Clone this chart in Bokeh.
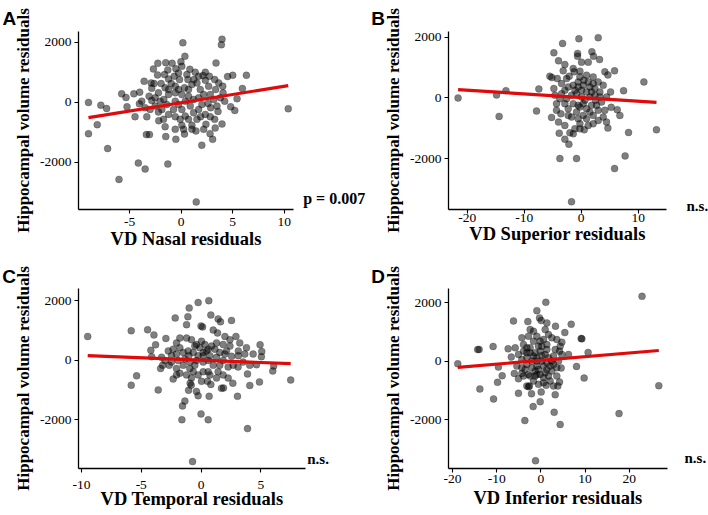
from bokeh.plotting import figure
from bokeh.layouts import row, column
from bokeh.models import Label, FixedTicker, Range1d
from bokeh.embed import file_html
from bokeh.resources import INLINE

# ---------------- data ----------------
y_title = "Hippocampal volume residuals"

# Panel A: VD Nasal
a_x = [-9.0,-9.0,-8.15,-7.8,-7.24,-7.14,-6.04,-4.16,-3.5,-1.3,
       1.46,10.39,0.16,3.96,3.9,6.33,5.0,4.5,5.94,5.42,
       4.8,5.2,3.96,3.3,3.05,2.8,2.0,1.43,3.38,0.36,
       -0.03,-0.88,-1.5,-2.27,-2.7,-1.3,-2.3,-0.52,0.84,1.36,
       2.34,-3.6,-2.92,-5.78,-4.6,-4.03,-5.36,-5.26,-4.06,-4.48,
       -3.34,-3.38,-3.08,-2.18,-1.5,-1.56,-0.52,0.32,-0.58,0.06,
       1.04,2.4,1.88,0.71,3.25,3.57,2.86,2.6,3.34,4.03,
       4.06,3.25,2.34,2.11,1.23,0.55,0.65,-0.16,-1.23,-1.95,
       -2.63,-2.86,-3.12,-2.86,-2.53,-1.88,-1.69,-1.23,-0.58,-1.23,
       -0.26,0.32,0.71,1.2,1.69,2.18,1.85,2.66,2.82,3.15,
       -0.58,-0.26,0.06,-0.75,-1.23,-0.58,-0.1,0.39,1.2,1.69,
       2.01,0.88,0.39,0.71,0.06,-0.58,-0.97,-1.56,-2.21,-2.53,
       -1.4,-2.05,-1.72,0.23,1.04,2.18,1.53,2.34,2.82,3.47,
       3.8,4.22,3.64,1.53,1.04,-0.26,-0.68,-1.62,0.06,1.69,
       2.73,-3.5,-3.83,-3.02,-2.21]
a_y = [0,-1040,-740,-90,-200,-1536,-2564,-2022,-2221,-2055,
       -3315,-210,1989,2110,1923,906,906,862,464,122,
       -144,-265,-718,-851,-1227,-1039,-1425,-950,1315,1536,
       1359,1304,1326,1304,1116,1083,917,1127,1105,1006,
       1006,707,652,287,287,343,166,-144,-44,-475,
       -475,-1072,-1072,-608,-1138,-807,-1227,-1050,-895,-762,
       -762,-729,-475,-564,-564,-298,-177,-33,431,541,
       320,762,740,895,762,928,762,762,785,630,
       630,475,210,66,-122,-232,100,265,320,431,
       431,486,431,100,155,265,431,541,265,100,
       44,-66,-232,-232,-398,-475,-564,-453,-343,-232,
       -66,-122,44,210,265,541,630,486,320,155,
       -66,44,-564,-895,-895,-895,-564,-398,-475,-122,
       155,44,652,652,597,983,873,928,1204,873,
       873,-177,44,-232,-320]
a_fit_x = [-9.0, 10.39]
a_fit_y = [-508, 563]

# Panel B: VD Superior
b_x = [-21.6,-14.85,-14.4,-13.2,-7.84,-7.43,13.2,10.99,8.3,7.7,
       5.85,-1.7,-3.74,-0.82,-2.16,-2.87,-3.27,-0.41,2.98,-4.8,
       -0.64,-0.64,1.87,2.16,3.22,-3.98,-2.87,0.06,1.23,-1.4,
       -3.16,-5.5,-5.15,-4.2,-2.57,-1.23,-0.23,0.94,2.1,4.15,
       5.85,4.68,7.43,5.15,4.44,5.26,6.32,6.78,4.44,4.68,
       3.86,2.98,2.1,1.23,0.53,-0.23,-1.11,-1.4,-1.99,-3.86,
       -3.98,-5.2,-4.33,-3.57,-2.28,-1.7,-0.82,-0.53,0.35,0.94,
       1.81,2.69,3.57,3.27,2.4,1.52,0.35,-0.53,-0.53,-1.4,
       -2.28,-2.87,-3.45,-4.8,-4.62,-3.74,-2.57,-1.7,-0.82,0.06,
       0.64,1.52,2.4,3.27,0.35,-0.53,-1.4,-2.87,0.94,1.23,
       2.1,2.98,-0.23,-2.1,-3.45,3.86,4.15,2.98,2.1,-0.23,
       1.52,-2.28,-2.87,0.94,0.06,1.81,-1.11,0.47,-4.33,2.51,
       -0.23]
b_y = [0,99,-605,242,-429,297,-1046,528,-1134,-1905,
       -2323,-3413,-1993,-1993,-1519,-1354,1795,1949,1982,1486,
       1464,1376,1519,1376,1266,1222,1101,1178,1178,969,
       892,716,672,639,639,859,881,749,694,859,
       892,760,242,198,33,-308,-385,-572,-793,-991,
       -627,-407,-572,-903,-1046,-848,-1013,-1178,-1145,-1156,
       -793,-639,-407,-517,-352,-627,-462,-683,-572,-352,
       -242,-242,-132,198,308,363,418,528,363,418,
       363,253,143,308,88,-22,-22,88,143,33,
       -77,33,88,33,-187,-242,-187,-187,198,528,
       473,528,694,716,473,418,-407,-738,-848,-297,
       -462,-572,-903,-683,253,198,253,583,-187,-77,
       -1013]
b_fit_x = [-21.6, 13.2]
b_fit_y = [275, -143]

# Panel C: VD Temporal
c_x = [-9.48,-5.84,-5.84,-5.39,-4.47,-3.94,-3.58,-4.2,-3.8,-4.13,
       -3.3,-2.94,-2.16,-0.99,-0.24,0.65,-1.1,-1.21,0.82,1.43,
       1.63,2.55,0.0,0.13,1.02,1.38,-1.6,0.0,0.6,3.89,
       -0.71,7.5,6.0,6.08,4.94,5.08,5.05,4.89,4.08,3.89,
       3.05,2.66,1.88,1.71,0.68,0.54,-0.24,-0.38,-0.91,-0.82,
       -1.04,-1.35,-1.55,-2.33,-2.05,-3.38,-2.66,-2.05,-1.77,-1.21,
       -0.65,-0.24,0.18,0.74,1.3,1.85,0.82,2.27,2.69,3.1,
       3.52,4.08,4.64,4.36,3.8,3.24,2.92,2.42,2.0,1.85,
       2.42,3.12,3.12,2.56,2.0,1.57,1.16,0.88,0.6,0.32,
       -0.1,-0.38,-0.8,-1.21,-1.77,-2.05,-1.77,-2.33,-2.74,-2.47,
       -2.05,-1.49,-1.07,-0.65,-0.24,0.18,0.74,1.3,1.85,1.57,
       1.02,0.6,0.18,-0.38,-0.94,-1.35,-1.91,-2.47,-3.02,-3.21,
       -1.49,-0.94,-0.52,-0.8,0.04,0.6,1.43,2.27,-0.52,0.04,
       1.3,2.13,3.66,0.18,0.46,-1.02]
c_y = [796,989,-839,-527,1021,849,-1000,333,516,118,
       97,731,1419,1752,1935,2000,1462,1193,1516,1387,
       1290,1333,1150,1118,1011,914,-2000,-1806,-2000,-2300,
       -3408,-667,-365,-194,516,290,118,-731,-849,-462,
       -1215,-774,-935,-946,-1215,-710,-1193,-1054,-774,-839,
       -1011,-1376,-1537,-634,-495,-280,-172,-280,-441,-495,
       -387,-495,-387,-495,-602,-495,-817,-226,-172,-226,
       -64,-172,-151,204,419,581,796,688,796,527,
       473,312,150,129,204,258,366,473,366,527,
       419,527,688,742,742,581,419,366,312,150,
       204,258,312,258,150,258,150,97,-11,-172,
       -172,-11,-64,-11,-64,43,-11,-64,-11,-172,
       -172,-280,-172,-602,-710,-387,-387,-602,473,634,
       581,312,204,150,312,150]
c_fit_x = [-9.48, 7.5]
c_fit_y = [150, -118]

# Panel D: VD Inferior
d_x = [-18.8,22.9,26.7,17.7,1.13,-0.9,-0.3,0.08,-2.94,-6.19,
       1.36,3.32,5.43,6.87,9.13,9.28,10.7,8.08,9.8,4.75,
       4.23,4.6,3.62,4.23,3.85,3.25,3.02,4.38,-3.62,-1.2,
       -1.74,-0.15,-2.11,-5.06,-2.8,0.08,1.2,-10.7,-13.8,-9.8,
       -8.75,-9.6,-14.3,-13.96,-10.8,-7.4,-5.8,-6.7,-5.43,-6.0,
       -5.06,-3.17,-2.57,-3.92,-2.42,-0.9,0.6,2.11,2.87,1.36,
       2.49,2.87,4.0,4.75,6.26,2.87,1.74,0.98,-0.15,-1.28,
       -2.42,-3.17,-3.92,-4.3,-2.8,-1.66,-0.9,0.6,1.74,2.49,
       3.62,1.36,0.23,0.98,-2.42,-3.92,-5.06,-4.3,-3.17,-2.04,
       -0.9,0.23,1.36,2.11,0.6,-0.9,-2.04,-3.17,-4.3,-4.3,
       -1.66,-0.53,0.6,3.62,-0.9,-1.66,-2.42,-0.53,1.36,3.25,
       4.38,2.49,0.98,-0.15,-1.28,-2.8,-3.55,-1.28,1.74,-0.53,
       0.23,-3.17,-1.66,-0.15]
d_y = [-80,2227,-829,-1784,2022,1738,1488,1397,1363,1386,
       1318,1204,988,1272,784,772,307,-170,-568,659,
       352,-227,-500,-704,-841,-1136,-1738,-2158,-2022,-3397,
       -1545,-1375,-1102,-1090,-863,-1045,-818,-1284,-943,-716,
       -488,-193,409,409,511,432,466,148,-159,-409,
       -591,-841,-841,-500,-500,-443,-557,-670,-841,-273,
       -330,-102,11,239,239,182,125,239,352,295,
       295,466,352,807,863,693,863,750,920,807,
       750,579,523,1090,1090,579,239,68,125,11,
       125,11,-45,-159,-159,-159,-216,-102,-216,-409,
       -670,-784,-727,-216,11,182,466,523,409,409,
       523,11,-386,-443,-500,-443,-273,-330,-500,-273,
       205,295,1034,693]
d_fit_x = [-18.8, 26.7]
d_fit_y = [-204, 375]

# ---------------- styling helpers ----------------
SERIF = "Liberation Serif"
SANS = "Liberation Sans"
RED = "#E00A0A"


def make_panel(xs, ys, fit_x, fit_y, xr, yr, xticks, yticks, xlabel,
               width, height, borders, letter, letter_pos, note, note_pos,
               note_size, x_std, x_title_std):
    bl, br, bt, bb = borders
    p = figure(width=width, height=height, output_backend="svg",
               toolbar_location=None, tools="",
               x_range=Range1d(*xr), y_range=Range1d(*yr),
               min_border_left=bl, min_border_right=br,
               min_border_top=bt, min_border_bottom=bb)
    p.outline_line_color = None
    p.grid.visible = False
    p.background_fill_color = "white"
    p.border_fill_color = "white"

    p.scatter(xs, ys, size=7, fill_color="black", fill_alpha=0.5,
              line_color="black", line_alpha=0.3, line_width=0.7)
    p.line(fit_x, fit_y, line_color=RED, line_width=3.2)

    for ax in (p.xaxis[0], p.yaxis[0]):
        ax.axis_line_color = "black"
        ax.axis_line_width = 1.3
        ax.major_tick_line_color = "black"
        ax.major_tick_line_width = 1.1
        ax.major_tick_out = 4
        ax.major_tick_in = 0
        ax.minor_tick_out = 0
        ax.minor_tick_in = 0
        ax.major_label_text_font = SERIF
        ax.major_label_text_font_size = "13.5px"
        ax.major_label_text_color = "black"
        ax.axis_label_text_font = SERIF
        ax.axis_label_text_font_style = "bold"
        ax.axis_label_text_color = "black"

    p.xaxis.ticker = FixedTicker(ticks=xticks)
    p.yaxis.ticker = FixedTicker(ticks=yticks)
    p.xaxis.major_label_overrides = {t: str(t) for t in xticks}
    p.yaxis.major_label_overrides = {t: str(t) for t in yticks}
    p.xaxis.axis_label = xlabel
    p.xaxis.axis_label_text_font_size = "18.5px"
    p.xaxis.major_label_standoff = x_std
    p.xaxis.axis_label_standoff = x_title_std
    p.yaxis.axis_label = y_title
    p.yaxis.axis_label_text_font_size = "17px"
    p.yaxis.major_label_standoff = 3
    p.yaxis.axis_label_standoff = 4

    # texts outside the frame: side-panel labels in canvas pixels (y from top)
    p.add_layout(Label(x=letter_pos[0], y=letter_pos[1],
                       x_units="canvas", y_units="canvas",
                       text=letter, text_font=SANS, text_font_style="bold",
                       text_font_size="19px", text_color="black",
                       text_align="left", text_baseline="alphabetic"), "above")
    p.add_layout(Label(x=note_pos[0], y=note_pos[1],
                       x_units="canvas", y_units="canvas",
                       text=note, text_font=SERIF, text_font_style="bold",
                       text_font_size=note_size, text_color="black",
                       text_align="left", text_baseline="alphabetic"), "right")
    return p


pa = make_panel(a_x, a_y, a_fit_x, a_fit_y, (-9.97, 10.9), (-3568, 2365),
                [-5, 0, 5, 10], [-2000, 0, 2000], "VD Nasal residuals",
                369, 257, (78, 76, 30, 48), "A", (2, 18.3),
                "p = 0.007", (302.7, 198), "16px", 4, 0)
pb = make_panel(b_x, b_y, b_fit_x, b_fit_y, (-23.28, 14.96), (-3668, 2187),
                [-20, -10, 0, 10], [-2000, 0, 2000], "VD Superior residuals",
                339, 257, (79, 42, 31, 48), "B", (1.7, 18.3),
                "n.s.", (317, 205.5), "15px", 0, -1)
pc = make_panel(c_x, c_y, c_fit_x, c_fit_y, (-10.25, 8.74), (-3640, 2408),
                [-10, -5, 0, 5], [-2000, 0, 2000], "VD Temporal residuals",
                354, 257, (78, 49, 23, 46), "C", (1.7, 19),
                "n.s.", (306.7, 201.7), "15px", 8, -3)
pd_ = make_panel(d_x, d_y, d_fit_x, d_fit_y, (-20.9, 28.67), (-3662, 2495),
                 [-20, -10, 0, 10, 20], [-2000, 0, 2000], "VD Inferior residuals",
                 354, 257, (94, 41, 31, 46), "D", (16.7, 19),
                 "n.s.", (330, 200), "15px", 2, 2)

layout = column(row(pa, pb), row(pc, pd_))

with open("out.html", "w") as f:
    f.write(file_html(layout, INLINE))
